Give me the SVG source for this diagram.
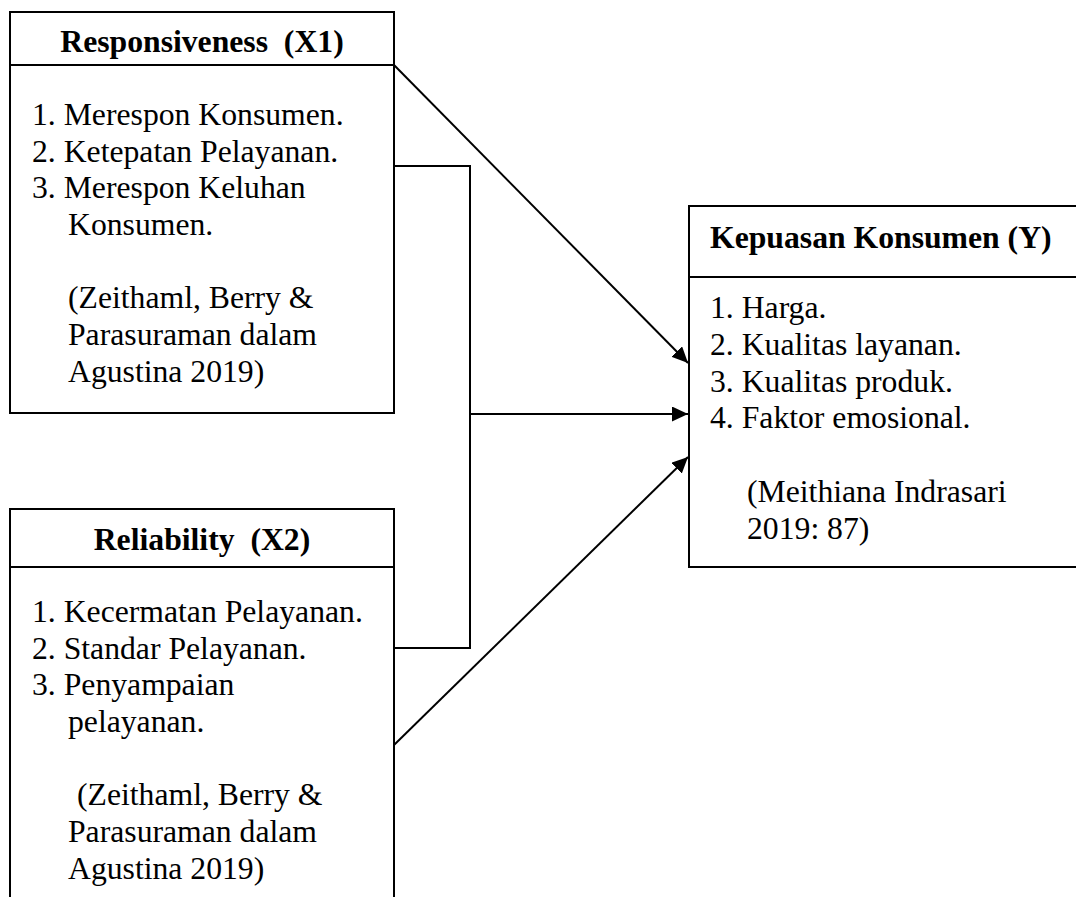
<svg xmlns="http://www.w3.org/2000/svg" width="1076" height="897" viewBox="0 0 1076 897">
<style>
.box{fill:#fff;stroke:#000;stroke-width:2}
.sep{stroke:#000;stroke-width:2}
.t{font-family:"Liberation Serif","Times New Roman",serif;font-size:31.7px;fill:#000}
.h{font-family:"Liberation Serif","Times New Roman",serif;font-size:31.7px;font-weight:bold;fill:#000;text-anchor:middle}
.c{fill:none;stroke:#000;stroke-width:2}
</style>
<defs>
<marker id="ah" markerUnits="userSpaceOnUse" markerWidth="16" markerHeight="15" refX="16" refY="7.5" orient="auto">
<path d="M0,0 L16,7.5 L0,15 z" fill="#000"/>
</marker>
</defs>
<rect width="1076" height="897" fill="#fff"/>
<g id="connectors">
<polyline class="c" points="394,166 470,166 470,648 394,648"/>
<line class="c" x1="394" y1="65" x2="688" y2="363" marker-end="url(#ah)"/>
<line class="c" x1="470" y1="414" x2="688" y2="414" marker-end="url(#ah)"/>
<line class="c" x1="394" y1="745" x2="688" y2="457" marker-end="url(#ah)"/>
</g>
<g id="x1">
<rect class="box" x="10" y="12" width="384" height="401"/>
<line class="sep" x1="10" y1="65" x2="394" y2="65"/>
<text class="h" x="202" y="52" xml:space="preserve">Responsiveness  (X1)</text>
<text class="t" x="32" y="125">1. Merespon Konsumen.</text>
<text class="t" x="32" y="162">2. Ketepatan Pelayanan.</text>
<text class="t" x="32" y="198">3. Merespon Keluhan</text>
<text class="t" x="68" y="235">Konsumen.</text>
<text class="t" x="68" y="308">(Zeithaml, Berry &amp;</text>
<text class="t" x="68" y="345">Parasuraman dalam</text>
<text class="t" x="68" y="382">Agustina 2019)</text>
</g>
<g id="x2">
<rect class="box" x="10" y="509" width="384" height="420"/>
<line class="sep" x1="10" y1="567" x2="394" y2="567"/>
<text class="h" x="202" y="550" xml:space="preserve">Reliability  (X2)</text>
<text class="t" x="32" y="622">1. Kecermatan Pelayanan.</text>
<text class="t" x="32" y="659">2. Standar Pelayanan.</text>
<text class="t" x="32" y="695">3. Penyampaian</text>
<text class="t" x="68" y="732">pelayanan.</text>
<text class="t" x="77" y="805">(Zeithaml, Berry &amp;</text>
<text class="t" x="68" y="842">Parasuraman dalam</text>
<text class="t" x="68" y="879">Agustina 2019)</text>
</g>
<g id="y">
<rect class="box" x="689" y="206" width="420" height="361"/>
<line class="sep" x1="689" y1="277" x2="1109" y2="277"/>
<text class="h" x="710" y="248" style="text-anchor:start">Kepuasan Konsumen (Y)</text>
<text class="t" x="710" y="318">1. Harga.</text>
<text class="t" x="710" y="355">2. Kualitas layanan.</text>
<text class="t" x="710" y="392">3. Kualitas produk.</text>
<text class="t" x="710" y="428">4. Faktor emosional.</text>
<text class="t" x="747" y="502">(Meithiana Indrasari</text>
<text class="t" x="747" y="539">2019: 87)</text>
</g>
</svg>
